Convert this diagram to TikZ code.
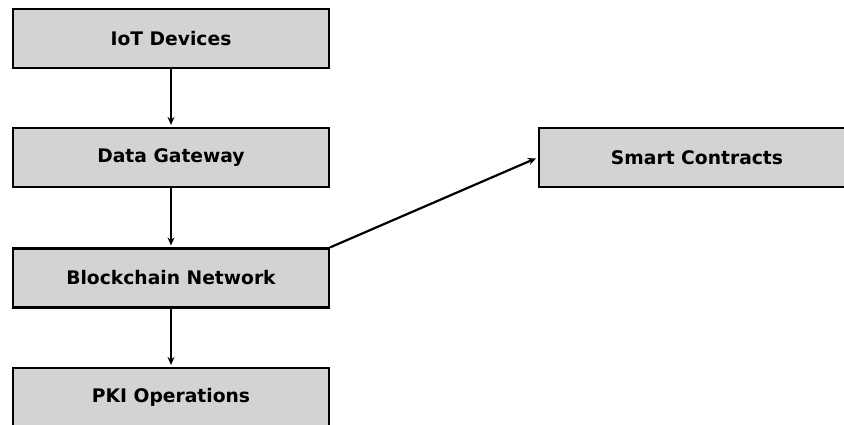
\documentclass[tikz,border=0pt]{standalone}
\usepackage{fontspec}
\setmainfont{DejaVu Sans}
\usetikzlibrary{arrows.meta}
\begin{document}
\begin{tikzpicture}[x=1pt,y=-1pt,
  block/.style={draw=black, line width=2.2pt, fill={rgb,255:red,211;green,211;blue,211},
    minimum width=316pt, minimum height=59pt, inner sep=0pt,
    font=\fontsize{18.7}{21}\selectfont\bfseries},
  flow/.style={line width=2.2pt, -{Stealth[length=8pt,width=7pt]}, shorten >=2pt}]
  \clip (0,0) rectangle (844,425);
  \fill[white] (0,0) rectangle (844,425);
  \node[block] (iot) at (171,38.5) {IoT Devices};
  \node[block] (gw)  at (171,157.5) {Data Gateway};
  \node[block] (bc)  at (171,278) {Blockchain Network};
  \node[block] (pki) at (171,397.5) {PKI Operations};
  \node[block] (sc)  at (697,157.5) {Smart Contracts};
  \draw[flow] (iot.south) -- (gw.north);
  \draw[flow] (gw.south) -- (bc.north);
  \draw[flow] (bc.south) -- (pki.north);
  \draw[flow] (bc.north east) -- (sc.west);
\end{tikzpicture}
\end{document}
